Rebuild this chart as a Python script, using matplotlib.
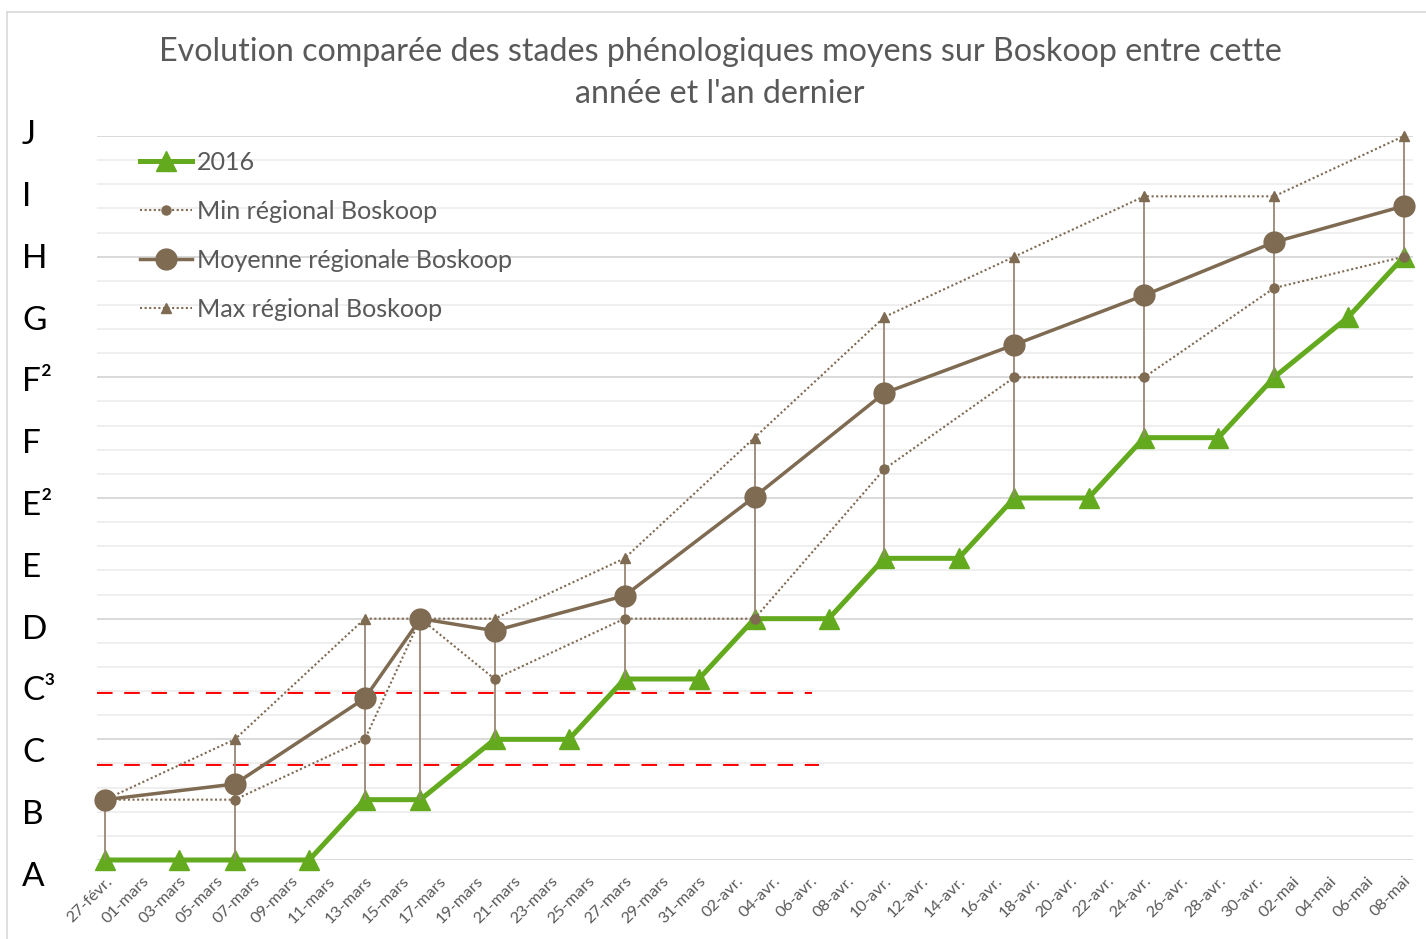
import matplotlib
matplotlib.use("Agg")
import matplotlib.pyplot as plt
from matplotlib.lines import Line2D

plt.rcParams['font.family'] = ['Lato', 'DejaVu Sans']

# Axe des dates : jours comptés depuis le 27 février, une étiquette tous les 2 jours
jours_ticks = list(range(0, 71, 2))
etiquettes_dates = [
    "27-févr.", "01-mars", "03-mars", "05-mars", "07-mars", "09-mars", "11-mars",
    "13-mars", "15-mars", "17-mars", "19-mars", "21-mars", "23-mars", "25-mars",
    "27-mars", "29-mars", "31-mars", "02-avr.", "04-avr.", "06-avr.", "08-avr.",
    "10-avr.", "12-avr.", "14-avr.", "16-avr.", "18-avr.", "20-avr.", "22-avr.",
    "24-avr.", "26-avr.", "28-avr.", "30-avr.", "02-mai", "04-mai", "06-mai", "08-mai",
]

# Stades phénologiques (0 = A ... 30 = J, 2.5 par stade)
stades = ["A", "B", "C", "C³", "D", "E", "E²", "F", "F²", "G", "H", "I", "J"]

# Suivi 2016
jours_2016 = [0, 4, 7, 11, 14, 17, 21, 25, 28, 32, 35, 39, 42, 46, 49, 53, 56, 60, 63, 67, 70]
stade_2016 = [0, 0, 0, 0, 2.5, 2.5, 5, 5, 7.5, 7.5, 10, 10, 12.5, 12.5, 15, 15,
              17.5, 17.5, 20, 22.5, 25]

# Références régionales Boskoop
jours_regional = [0, 7, 14, 17, 21, 28, 35, 42, 49, 56, 63, 70]
min_regional = [2.5, 2.5, 5, 10, 7.5, 10, 10, 16.2, 20, 20, 23.7, 25]
moy_regional = [2.5, 3.15, 6.7, 10, 9.5, 10.95, 15.05, 19.35, 21.35, 23.4, 25.6, 27.1]
max_regional = [2.5, 5, 10, 10, 10, 12.5, 17.5, 22.5, 25, 27.5, 27.5, 30]

# Seuils repères (stades C et C³)
seuils = [4.0, 7.0]

VERT = "#63AA1F"
BRUN = "#7F6A52"
GRIS_TXT = "#595959"

W, H = 1426, 939
fig = plt.figure(figsize=(W / 100, H / 100), dpi=100)
fig.patch.set_facecolor("white")

# cadre du graphique
fig.add_artist(Line2D([7 / W, 1], [1 - 12 / H, 1 - 12 / H], color="#d9d9d9", lw=1.2))
fig.add_artist(Line2D([7 / W, 7 / W], [0, 1 - 12 / H], color="#d9d9d9", lw=1.2))

left, right, top, bottom = 97, 1413, 136, 860
ax = fig.add_axes([left / W, 1 - bottom / H, (right - left) / W, (bottom - top) / H])
px_jour = (1404 - 105) / 70
ax.set_xlim(-(105 - left) / px_jour, 70 + (right - 1404) / px_jour)
ax.set_ylim(0, 30)

for s in ax.spines.values():
    s.set_visible(False)

ax.set_yticks(range(0, 31, 5))
ax.set_yticks(range(0, 31, 1), minor=True)
ax.grid(which="minor", axis="y", color="#efefef", lw=1.4, zorder=0)
ax.grid(which="major", axis="y", color="#d9d9d9", lw=1.4, zorder=0)
ax.tick_params(axis="y", which="both", left=False, labelleft=False)

ax.set_xticks(jours_ticks)
ax.set_xticklabels(etiquettes_dates, rotation=45, ha="right", rotation_mode="anchor",
                   color=GRIS_TXT, fontsize=11.8)
ax.tick_params(axis="x", length=0, pad=10)

# série 2016
ax.plot(jours_2016, stade_2016, color=VERT, lw=3.6, marker="^", ms=14,
        label="2016", zorder=2, clip_on=False, solid_joinstyle="miter")

# lignes haut-bas entre valeurs extrêmes de chaque date
val_2016 = dict(zip(jours_2016, stade_2016))
bas = [min(a, b, c, val_2016[j]) for j, a, b, c in zip(jours_regional, min_regional, moy_regional, max_regional)]
haut = [max(a, b, c, val_2016[j]) for j, a, b, c in zip(jours_regional, min_regional, moy_regional, max_regional)]
ax.vlines(jours_regional, bas, haut, color="#9a8775", lw=1.3, zorder=3)

ax.plot(jours_regional, min_regional, color=BRUN, lw=1.5, ls=(0, (1, 1.2)), marker="o",
        ms=6.5, label="Min régional Boskoop", zorder=4, clip_on=False)
ax.plot(jours_regional, moy_regional, color=BRUN, lw=2.5, marker="o", ms=15,
        label="Moyenne régionale Boskoop", zorder=5, clip_on=False)
ax.plot(jours_regional, max_regional, color=BRUN, lw=1.5, ls=(0, (1, 1.2)), marker="^",
        ms=6.5, label="Max régional Boskoop", zorder=4, clip_on=False)

# seuils en tirets rouges
x0 = ax.get_xlim()[0]
for y, fin in zip(seuils, [38.5, 38.1]):
    ax.plot([x0, fin], [y - 0.04, y - 0.04], color="#FF0000", lw=2.8, ls=(0, (4, 3)),
            dash_capstyle="butt", zorder=1.5)

leg = ax.legend(loc="upper left", bbox_to_anchor=(140 / W, 1 - 151 / H),
                bbox_transform=fig.transFigure, frameon=False, fontsize=18.1,
                handlelength=2.05, handletextpad=0.2, labelspacing=1.03,
                numpoints=1, borderpad=0, borderaxespad=0)
for t in leg.get_texts():
    t.set_color(GRIS_TXT)

# étiquettes des stades
y_haut, y_bas = 135, 877
pas = (y_bas - y_haut) / (len(stades) - 1)
for i, lab in enumerate(reversed(stades)):
    fig.text(22 / W, 1 - (y_haut + i * pas) / H, lab, fontsize=24, color="black",
             ha="left", va="center")

fig.text(720 / W, 1 - 73 / H,
         "Evolution comparée des stades phénologiques moyens sur Boskoop entre cette\n"
         "année et l'an dernier",
         ha="center", va="center", fontsize=23.2, color=GRIS_TXT, linespacing=1.5)

fig.savefig("out.png", dpi=100, facecolor="white")
